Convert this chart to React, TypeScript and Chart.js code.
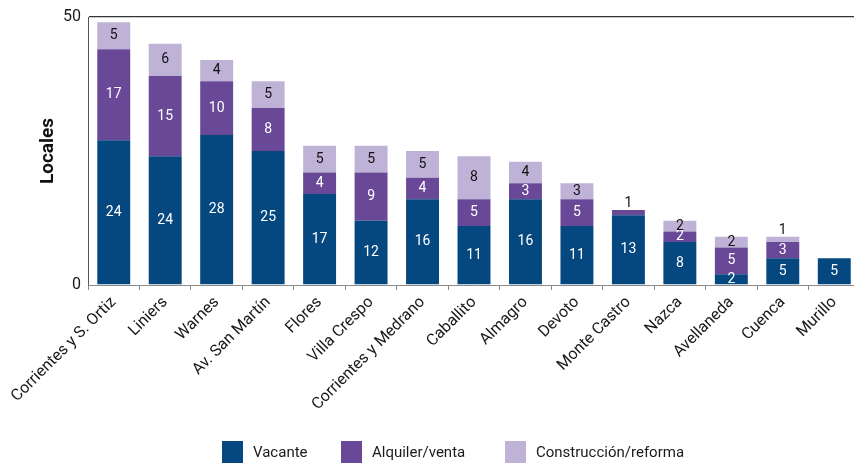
import React, { useEffect, useRef } from "react";
import { Chart, registerables } from "chart.js";

Chart.register(...registerables);

const categories = [
  "Corrientes y S. Ortiz", "Liniers", "Warnes", "Av. San Martín", "Flores",
  "Villa Crespo", "Corrientes y Medrano", "Caballito", "Almagro", "Devoto",
  "Monte Castro", "Nazca", "Avellaneda", "Cuenca", "Murillo",
];

// bar heights as drawn
const vacante = [27, 24, 28, 25, 17, 12, 16, 11, 16, 11, 13, 8, 2, 5, 5];
const alquiler = [17, 15, 10, 8, 4, 9, 4, 5, 3, 5, 1, 2, 5, 3, 0];
const construccion = [5, 6, 4, 5, 5, 5, 5, 8, 4, 3, 0, 2, 2, 1, 0];

// printed labels
const vacanteLabels = [24, 24, 28, 25, 17, 12, 16, 11, 16, 11, 13, 8, 2, 5, 5];
const alquilerLabels = alquiler;
const construccionLabels = construccion;

const seriesNames = ["Vacante", "Alquiler/venta", "Construcción/reforma"];
const seriesColors = ["#05477f", "#6a4898", "#bfb2d7"];
const yTicks = [0, 50];

const FONT = "Roboto, 'Noto Sans', sans-serif";

const labelPlugin = {
  id: "segLabels",
  afterDatasetsDraw(chart: any) {
    const ctx = chart.ctx;
    const labelSets = [vacanteLabels, alquilerLabels, construccionLabels];
    ctx.save();
    ctx.font = `14px ${FONT}`;
    ctx.textAlign = "center";
    chart.data.datasets.forEach((_ds: any, i: number) => {
      const meta = chart.getDatasetMeta(i);
      meta.data.forEach((bar: any, j: number) => {
        const v = labelSets[i][j];
        if (!v) return;
        if (v === 1) {
          ctx.fillStyle = "#111";
          ctx.textBaseline = "bottom";
          ctx.fillText(String(v), bar.x, bar.y + 1);
        } else {
          ctx.fillStyle = i < 2 ? "#ffffff" : "#111";
          ctx.textBaseline = "middle";
          ctx.fillText(String(v), bar.x, (bar.y + bar.base) / 2);
        }
      });
    });
    ctx.restore();
  },
};

export default function App() {
  const ref = useRef<HTMLCanvasElement | null>(null);

  useEffect(() => {
    if (!ref.current) return;
    const data = [vacante, alquiler, construccion];
    const chart = new Chart(ref.current, {
      type: "bar",
      data: {
        labels: categories,
        datasets: seriesNames.map((name, i) => ({
          label: name,
          data: data[i],
          backgroundColor: seriesColors[i],
          borderWidth: 0,
          categoryPercentage: 1,
          barPercentage: 0.64,
        })),
      },
      options: {
        responsive: false,
        animation: false,
        layout: { padding: { left: 0, right: 10, top: 17, bottom: 0 } },
        plugins: {
          legend: { display: false },
          tooltip: { enabled: false },
        },
        scales: {
          x: {
            stacked: true,
            afterFit: (s: any) => {
              s.height = 178;
              s.paddingLeft = 0;
              s.paddingRight = 0;
            },
            grid: {
              offset: true,
              drawOnChartArea: false,
              drawTicks: true,
              tickLength: 5,
              color: "#8a8a8a",
            },
            border: { color: "#8a8a8a", width: 1 },
            ticks: {
              autoSkip: false,
              maxRotation: 45,
              minRotation: 45,
              padding: 3,
              color: "#1a1a1a",
              font: { family: FONT, size: 16 },
            },
          },
          y: {
            stacked: true,
            min: 0,
            max: 50,
            afterFit: (s: any) => {
              s.width = 88;
            },
            afterBuildTicks: (s: any) => {
              s.ticks = yTicks.map((v) => ({ value: v }));
            },
            grid: {
              drawTicks: false,
              color: (c: any) => (c.tick && c.tick.value === 50 ? "#333333" : "rgba(0,0,0,0)"),
              lineWidth: 1.3,
            },
            border: { color: "#555555", width: 1 },
            ticks: {
              padding: 7,
              color: "#1a1a1a",
              font: { family: FONT, size: 16 },
            },
            title: {
              display: true,
              text: "Locales",
              color: "#111",
              font: { family: FONT, size: 19, weight: "bold" },
              padding: { top: 37, bottom: 0 },
            },
          },
        },
      },
      plugins: [labelPlugin],
    });
    return () => chart.destroy();
  }, []);

  const legendLefts = [222, 341, 505];

  return (
    <div
      style={{
        position: "fixed",
        left: 0,
        top: 0,
        width: 854,
        height: 463,
        overflow: "hidden",
        background: "#ffffff",
      }}
    >
      <canvas
        ref={ref}
        width={870}
        height={463}
        style={{ position: "absolute", left: 0, top: 0, width: 870, height: 463 }}
      />
      {seriesNames.map((name, i) => (
        <div
          key={name}
          style={{
            position: "absolute",
            left: legendLefts[i],
            top: 441,
            height: 22,
            display: "flex",
            alignItems: "center",
            fontFamily: FONT,
            fontSize: 15,
            color: "#1a1a1a",
            whiteSpace: "nowrap",
          }}
        >
          <span
            style={{
              display: "inline-block",
              width: 21,
              height: 22,
              background: seriesColors[i],
              marginRight: 10,
            }}
          />
          <span>{name}</span>
        </div>
      ))}
    </div>
  );
}
